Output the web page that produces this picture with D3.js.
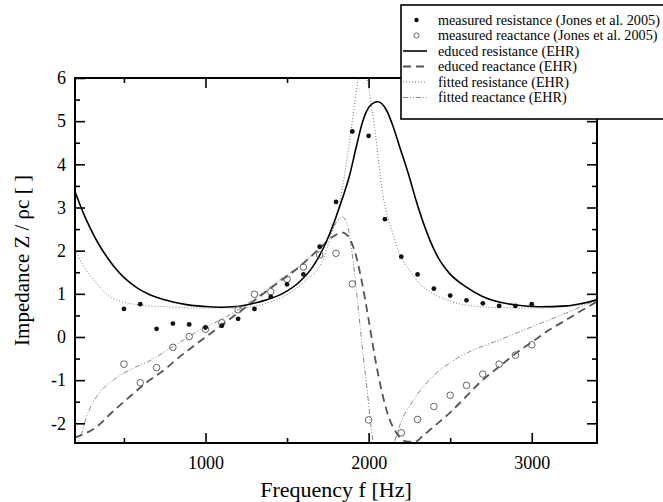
<!DOCTYPE html>
<html><head><meta charset="utf-8">
<script src="https://cdn.jsdelivr.net/npm/d3@7"></script>
<style>
body{margin:0;background:#fff}
svg{display:block}
text{font-family:"Liberation Serif","Times New Roman",serif;fill:#000}
</style>
</head><body>
<svg id="chart" width="663" height="502"></svg>
<script>
// ---- data ----
const measResF = [500,600,700,800,900,1000,1100,1200,1300,1400,1500,1600,1700,1800,1900,2000,2100,2200,2300,2400,2500,2600,2700,2800,2900,3000];
const measResV = [0.65,0.76,0.19,0.31,0.29,0.22,0.26,0.42,0.65,0.93,1.22,1.45,2.09,3.13,4.76,4.66,2.73,1.86,1.45,1.12,0.96,0.85,0.78,0.72,0.72,0.76];

const measReaF = [500,600,700,800,900,1000,1100,1200,1300,1400,1500,1600,1700,1800,1900,2000,2200,2300,2400,2500,2600,2700,2800,2900,3000];
const measReaV = [-0.63,-1.06,-0.71,-0.24,0.01,0.18,0.33,0.63,0.99,1.05,1.34,1.62,1.90,1.94,1.23,-1.92,-2.22,-1.91,-1.61,-1.35,-1.12,-0.86,-0.63,-0.42,-0.18];

const eduResF = [200,250,300,350,400,450,500,557,600,659,700,761,800,883,950,1026,1100,1169,1271,1373,1474,1577,1658,1740,1800,1840,1883,1924,1964,2005,2056,2107,2148,2189,2250,2291,2352,2392,2440,2494,2597,2698,2800,2902,3045,3208,3300,3400];
const eduResV = [3.37,2.88,2.47,2.12,1.83,1.58,1.38,1.20,1.09,0.98,0.92,0.85,0.81,0.75,0.72,0.70,0.69,0.70,0.76,0.86,1.01,1.28,1.63,2.20,2.78,3.22,3.74,4.40,5.00,5.34,5.45,5.27,4.90,4.42,3.70,3.16,2.47,2.10,1.75,1.48,1.16,0.94,0.81,0.74,0.70,0.72,0.77,0.86];

const eduReaF = [200,333,434,537,639,761,812,924,1087,1250,1413,1577,1699,1780,1840,1880,1920,1960,2000,2040,2080,2120,2170,2230,2285,2330,2392,2494,2597,2698,2800,2902,3004,3106,3208,3300,3400];
const eduReaV = [-2.33,-2.08,-1.72,-1.38,-1.05,-0.72,-0.55,-0.22,0.24,0.70,1.17,1.63,2.05,2.32,2.42,2.30,1.92,1.25,0.40,-0.50,-1.25,-1.82,-2.22,-2.42,-2.43,-2.30,-2.10,-1.77,-1.38,-1.00,-0.69,-0.38,-0.11,0.16,0.39,0.60,0.82];

const fitResF = [200,250,333,414,455,598,761,965,1169,1332,1495,1618,1719,1760,1800,1850,1893,1933,1965,1995,2036,2086,2148,2209,2250,2311,2392,2494,2597,2800,3004,3208,3400];
const fitResV = [2.02,1.65,1.24,0.93,0.86,0.74,0.70,0.67,0.67,0.74,0.97,1.32,1.78,2.25,2.75,3.70,4.80,5.90,6.60,5.91,4.87,3.33,2.40,1.78,1.55,1.24,1.01,0.84,0.74,0.68,0.67,0.70,0.83];

const fitReaF = [200,231,280,333,434,537,659,801,965,1128,1291,1454,1618,1760,1810,1840,1870,1900,1930,1960,1990,2025,2060,2110,2150,2188,2290,2392,2494,2597,2800,3004,3208,3400];
const fitReaV = [-2.55,-2.33,-1.75,-1.38,-1.00,-0.76,-0.55,-0.22,0.16,0.47,0.86,1.32,1.78,2.35,2.70,2.78,2.60,1.90,0.90,-0.20,-1.20,-2.38,-2.90,-3.00,-2.55,-2.08,-1.38,-0.92,-0.61,-0.38,-0.07,0.24,0.55,0.86];

const xMajorTicks = [1000,2000,3000];
const xMinorTicks = [500,1500,2500];
const yMajorTicks = [-2,-1,0,1,2,3,4,5,6];
const yMinorTicks = [-1.5,-0.5,0.5,1.5,2.5,3.5,4.5,5.5];

const legendLabels = [
  "measured resistance (Jones et al. 2005)",
  "measured reactance (Jones et al. 2005)",
  "educed resistance (EHR)",
  "educed reactance (EHR)",
  "fitted resistance (EHR)",
  "fitted reactance (EHR)"
];

// ---- layout ----
const W = 663;
const L = 75, R = 597, T = 78, B = 443;
const svg = d3.select("#chart");
const x = d3.scaleLinear().domain([200,3400]).range([L,R]);
const y = d3.scaleLinear().domain([-2.456,6]).range([B,T]);

svg.append("defs").append("clipPath").attr("id","clip")
  .append("rect").attr("x",L).attr("y",T).attr("width",R-L).attr("height",B-T);

const zip = (f,v) => f.map((d,i)=>[d,v[i]]);
const line = d3.line().x(d=>x(d[0])).y(d=>y(d[1])).curve(d3.curveMonotoneX);

const plot = svg.append("g").attr("clip-path","url(#clip)");

plot.append("path").attr("d", line(zip(fitResF,fitResV)))
  .attr("fill","none").attr("stroke","#777").attr("stroke-width",1).attr("stroke-dasharray","1,2");
plot.append("path").attr("d", line(zip(fitReaF,fitReaV)))
  .attr("fill","none").attr("stroke","#888").attr("stroke-width",1).attr("stroke-dasharray","5,2,1,2,1,2");
plot.append("path").attr("d", line(zip(eduReaF,eduReaV)))
  .attr("fill","none").attr("stroke","#555").attr("stroke-width",1.8).attr("stroke-dasharray","8,5");
plot.append("path").attr("d", line(zip(eduResF,eduResV)))
  .attr("fill","none").attr("stroke","#000").attr("stroke-width",1.6);

plot.selectAll("circle.rea").data(zip(measReaF,measReaV)).enter().append("circle")
  .attr("class","rea").attr("cx",d=>x(d[0])).attr("cy",d=>y(d[1])).attr("r",3.3)
  .attr("fill","none").attr("stroke","#666").attr("stroke-width",1);
plot.selectAll("circle.res").data(zip(measResF,measResV)).enter().append("circle")
  .attr("class","res").attr("cx",d=>x(d[0])).attr("cy",d=>y(d[1])).attr("r",2.4)
  .attr("fill","#111");

// ---- axes ----
function styleAxis(g){
  g.select(".domain").remove();
  g.selectAll(".tick line").attr("stroke","#000").attr("stroke-width",1.6);
  g.selectAll("text").style("font-family",'"Liberation Serif","Times New Roman",serif').style("font-size","18px").attr("fill","#000");
}
const fmt = d => String(d);
svg.append("g").attr("transform",`translate(0,${B})`)
  .call(d3.axisBottom(x).tickValues(xMajorTicks).tickSize(-10).tickPadding(13).tickFormat(fmt)).call(styleAxis);
svg.append("g").attr("transform",`translate(0,${B})`)
  .call(d3.axisBottom(x).tickValues(xMinorTicks).tickSize(-5).tickFormat("")).call(styleAxis);
svg.append("g").attr("transform",`translate(0,${T})`)
  .call(d3.axisTop(x).tickValues(xMajorTicks).tickSize(-10).tickFormat("")).call(styleAxis);
svg.append("g").attr("transform",`translate(0,${T})`)
  .call(d3.axisTop(x).tickValues(xMinorTicks).tickSize(-5).tickFormat("")).call(styleAxis);
svg.append("g").attr("transform",`translate(${L},0)`)
  .call(d3.axisLeft(y).tickValues(yMajorTicks).tickSize(-10).tickPadding(9).tickFormat(fmt)).call(styleAxis);
svg.append("g").attr("transform",`translate(${L},0)`)
  .call(d3.axisLeft(y).tickValues(yMinorTicks).tickSize(-5).tickFormat("")).call(styleAxis);
svg.append("g").attr("transform",`translate(${R},0)`)
  .call(d3.axisRight(y).tickValues(yMajorTicks).tickSize(-10).tickFormat("")).call(styleAxis);
svg.append("g").attr("transform",`translate(${R},0)`)
  .call(d3.axisRight(y).tickValues(yMinorTicks).tickSize(-5).tickFormat("")).call(styleAxis);

svg.append("rect").attr("x",L).attr("y",T).attr("width",R-L).attr("height",B-T)
  .attr("fill","none").attr("stroke","#000").attr("stroke-width",2);

// titles
svg.append("text").attr("x",(L+R)/2).attr("y",497).attr("text-anchor","middle")
  .style("font-size","22px").text("Frequency f [Hz]");
svg.append("text").attr("transform",`translate(29,${(T+B)/2}) rotate(-90)`).attr("text-anchor","middle")
  .style("font-size","21px").text("Impedance Z / ρc [ ]");

// ---- legend ----
const lg = svg.append("g");
lg.append("rect").attr("x",401).attr("y",5).attr("width",300).attr("height",114)
  .attr("fill","#fff").attr("stroke","#000").attr("stroke-width",1.6);
const rowY = i => 20 + i*15.5;
const sx0 = 403, sx1 = 427, tx = 438;
lg.append("circle").attr("cx",416.5).attr("cy",rowY(0)).attr("r",2.2).attr("fill","#111");
lg.append("circle").attr("cx",416.5).attr("cy",rowY(1)).attr("r",2.6).attr("fill","none").attr("stroke","#666");
lg.append("line").attr("x1",sx0).attr("x2",sx1).attr("y1",rowY(2)).attr("y2",rowY(2)).attr("stroke","#000").attr("stroke-width",1.6);
lg.append("line").attr("x1",sx0).attr("x2",sx1).attr("y1",rowY(3)).attr("y2",rowY(3)).attr("stroke","#555").attr("stroke-width",1.8).attr("stroke-dasharray","8,5");
lg.append("line").attr("x1",sx0).attr("x2",sx1).attr("y1",rowY(4)).attr("y2",rowY(4)).attr("stroke","#777").attr("stroke-width",1).attr("stroke-dasharray","1,2");
lg.append("line").attr("x1",sx0).attr("x2",sx1).attr("y1",rowY(5)).attr("y2",rowY(5)).attr("stroke","#888").attr("stroke-width",1).attr("stroke-dasharray","5,2,1,2,1,2");
const labs = lg.selectAll("text.lab").data(legendLabels).enter().append("text").attr("class","lab")
  .attr("x",tx).attr("y",(d,i)=>rowY(i)).attr("dy","0.35em").style("font-size","15px").text(d=>d);
// shrink legend font so the longest label fits inside the page
let maxLen = 0;
labs.each(function(){ maxLen = Math.max(maxLen, this.getComputedTextLength()); });
const avail = W - tx - 3;
if (maxLen > avail) labs.style("font-size", (15*avail/maxLen).toFixed(2)+"px");
</script>
</body></html>
